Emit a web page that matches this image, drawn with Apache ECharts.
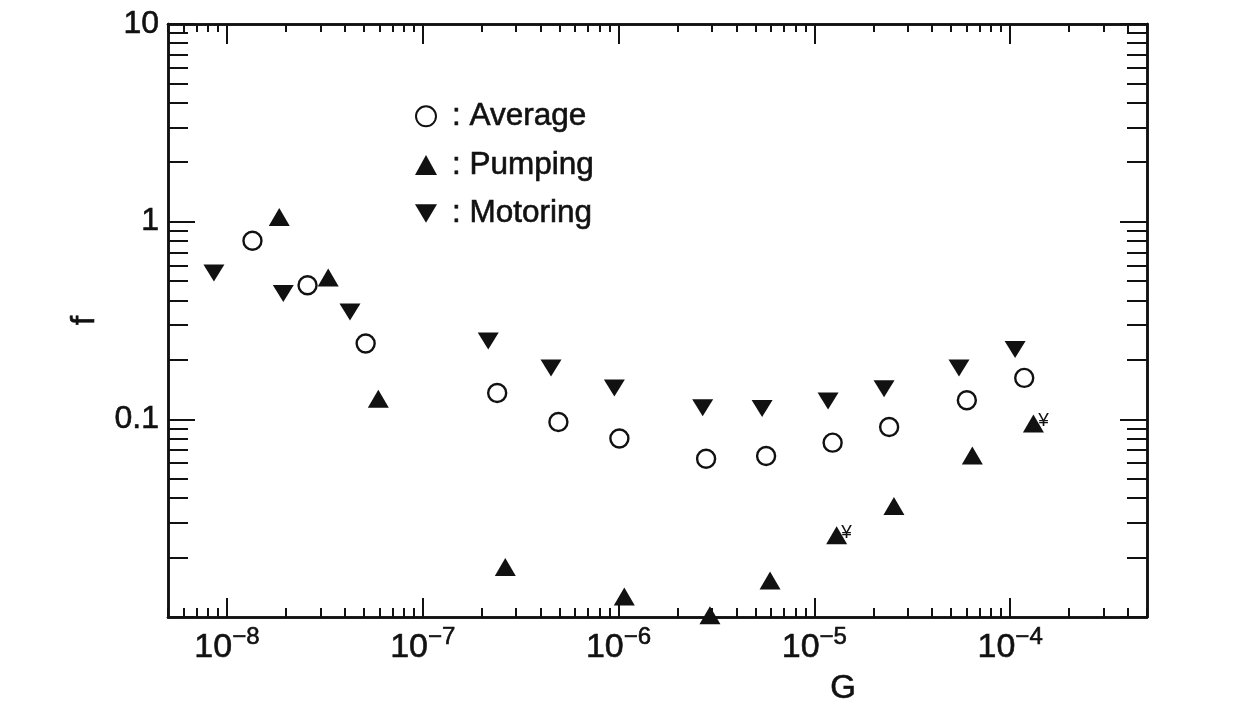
<!DOCTYPE html>
<html>
<head>
<meta charset="utf-8">
<script src="https://cdn.jsdelivr.net/npm/echarts@6/dist/echarts.min.js"></script>
<style>
  html, body { margin: 0; padding: 0; background: #ffffff; }
  #chart { width: 1241px; height: 708px; }
</style>
</head>
<body>
<div id="chart"></div>
<script>
// Friction coefficient f against duty parameter G, three operating modes.
const averageG  = [1.35e-8, 2.58e-8, 5.11e-8, 2.40e-7, 4.93e-7, 1.01e-6, 2.80e-6, 5.67e-6, 1.24e-5, 2.41e-5, 6.01e-5, 1.18e-4];
const averageF  = [0.80, 0.477, 0.242, 0.136, 0.097, 0.080, 0.0632, 0.0652, 0.0762, 0.0914, 0.125, 0.162];

const pumpingG  = [1.85e-8, 3.29e-8, 5.93e-8, 2.64e-7, 1.07e-6, 2.93e-6, 5.94e-6, 1.30e-5, 2.55e-5, 6.41e-5, 1.315e-4];
const pumpingF  = [1.057, 0.522, 0.127, 0.0179, 0.0127, 0.0102, 0.0153, 0.0259, 0.0364, 0.0657, 0.0954];
const pumpingNotes = ['', '', '', '', '', '', '', '¥', '', '', '¥'];

const motoringG = [8.58e-9, 1.94e-8, 4.25e-8, 2.16e-7, 4.52e-7, 9.52e-7, 2.69e-6, 5.41e-6, 1.175e-5, 2.27e-5, 5.48e-5, 1.06e-4];
const motoringF = [0.550, 0.433, 0.349, 0.249, 0.182, 0.144, 0.1146, 0.1133, 0.1238, 0.143, 0.182, 0.2254];

// Axis ranges and tick labels
const xRange = [5e-9, 5e-4];
const yRange = [0.01, 10];
const xMajorTicks = [1e-8, 1e-7, 1e-6, 1e-5, 1e-4];
const xTickExponents = ['−8', '−7', '−6', '−5', '−4'];
const yMajorTicks = [0.01, 0.1, 1, 10];
const yLabelTicks = [0.1, 1, 10];
const yTickLabels = ['0.1', '1', '10'];
const mantissas = [2, 3, 4, 5, 6, 7, 8, 9];

const FONT = '"Liberation Sans", Arial, Helvetica, sans-serif';
const INK = '#111111';
// slight outline so the printed-style lettering reads a little heavier
const HEAVY = { textBorderColor: INK, textBorderWidth: 0.6 };

// Minor ticks at 2..9 of every decade inside a range
function minorTicks(range) {
  const out = [];
  const lo = Math.floor(Math.log10(range[0]));
  const hi = Math.ceil(Math.log10(range[1]));
  for (let d = lo; d <= hi; d++) {
    mantissas.forEach(m => {
      const v = m * Math.pow(10, d);
      if (v >= range[0] * 0.999 && v <= range[1] * 1.001) out.push(v);
    });
  }
  return out;
}
const xMinorTicks = minorTicks(xRange);
const yMinorTicks = minorTicks(yRange);

function indexOfTick(list, v) {
  let best = 0, bestD = Infinity;
  list.forEach((t, i) => {
    const d = Math.abs(Math.log10(t) - Math.log10(v));
    if (d < bestD) { bestD = d; best = i; }
  });
  return best;
}

function axisBase(range, position) {
  return {
    type: 'log', logBase: 10, min: range[0], max: range[1], position: position,
    axisLine: { show: true, onZero: false, lineStyle: { color: INK, width: 2.5 } },
    splitLine: { show: false },
    minorTick: { show: false },
    minorSplitLine: { show: false },
    axisPointer: { show: false }
  };
}

function xAxisDef(position, ticks, len, labels) {
  const a = axisBase(xRange, position);
  a.axisTick = { show: true, inside: true, length: len, customValues: ticks, lineStyle: { color: INK, width: 2 } };
  if (labels) {
    a.axisLabel = {
      show: true, margin: 8, customValues: xMajorTicks,
      formatter: v => '{b|10}{s|' + xTickExponents[indexOfTick(xMajorTicks, v)] + '}',
      rich: {
        b: Object.assign({ fontFamily: FONT, fontSize: 34, color: INK, lineHeight: 40, verticalAlign: 'bottom' }, HEAVY),
        s: Object.assign({ fontFamily: FONT, fontSize: 24, color: INK, lineHeight: 24, verticalAlign: 'top' }, HEAVY)
      }
    };
  } else {
    a.axisLabel = { show: false };
  }
  return a;
}

function yAxisDef(position, ticks, len, labels) {
  const a = axisBase(yRange, position);
  a.axisTick = { show: true, inside: true, length: len, customValues: ticks, lineStyle: { color: INK, width: 2 } };
  if (labels) {
    a.axisLabel = Object.assign({
      show: true, margin: 9, customValues: yLabelTicks,
      formatter: v => yTickLabels[indexOfTick(yLabelTicks, v)],
      fontFamily: FONT, fontSize: 32, color: INK
    }, HEAVY);
    a.name = 'f';
    a.nameLocation = 'middle';
    a.nameGap = 66;
    a.nameRotate = 90;
    a.nameTextStyle = Object.assign({ fontFamily: FONT, fontSize: 34, color: INK }, HEAVY);
  } else {
    a.axisLabel = { show: false };
  }
  return a;
}

const chart = echarts.init(document.getElementById('chart'), null, { renderer: 'canvas' });

const downTriangle = 'path://M0,0 L20,0 L10,17 Z';

chart.setOption({
  animation: false,
  backgroundColor: '#ffffff',
  grid: { left: 168, top: 24, width: 979, height: 593, outerBoundsMode: 'none', containLabel: false },
  xAxis: [
    xAxisDef('bottom', xMajorTicks, 19, true),
    xAxisDef('bottom', xMinorTicks, 9, false),
    xAxisDef('top', xMajorTicks, 20, false),
    xAxisDef('top', xMinorTicks, 8, false)
  ],
  yAxis: [
    yAxisDef('left', yMajorTicks, 27, true),
    yAxisDef('left', yMinorTicks, 20, false),
    yAxisDef('right', yMajorTicks, 27, false),
    yAxisDef('right', yMinorTicks, 20, false)
  ],
  legend: {
    orient: 'vertical', left: 410, top: 95,
    itemWidth: 22, itemHeight: 20, itemGap: 16,
    data: ['Average', 'Pumping', 'Motoring'],
    formatter: n => ': ' + n,
    textStyle: Object.assign({ fontFamily: FONT, fontSize: 31.5, lineHeight: 30, color: INK, padding: [0, 0, 0, 10] }, HEAVY),
    selectedMode: false
  },
  graphic: [{
    type: 'text', x: 843, y: 689,
    style: { text: 'G', fontFamily: FONT, fontSize: 33, fill: INK, align: 'center', verticalAlign: 'middle', stroke: INK, lineWidth: 0.6 }
  }],
  series: [
    {
      name: 'Average', type: 'scatter', xAxisIndex: 0, yAxisIndex: 0, clip: false,
      data: averageG.map((g, i) => [g, averageF[i]]),
      symbol: 'circle', symbolSize: 18,
      itemStyle: { color: '#ffffff', borderColor: INK, borderWidth: 2.4, opacity: 1 }, z: 3
    },
    {
      name: 'Pumping', type: 'scatter', xAxisIndex: 0, yAxisIndex: 0, clip: false,
      data: pumpingG.map((g, i) => [g, pumpingF[i]]),
      symbol: 'triangle', symbolSize: [21, 18],
      itemStyle: { color: INK, opacity: 1 },
      label: {
        show: true, position: 'inside', offset: [10, -3],
        formatter: p => pumpingNotes[p.dataIndex],
        fontFamily: FONT, fontSize: 19, color: INK, textBorderWidth: 0
      }, z: 3
    },
    {
      name: 'Motoring', type: 'scatter', xAxisIndex: 0, yAxisIndex: 0, clip: false,
      data: motoringG.map((g, i) => [g, motoringF[i]]),
      symbol: downTriangle, symbolSize: [21, 17],
      itemStyle: { color: INK, opacity: 1 }, z: 3
    }
  ]
});
</script>
</body>
</html>
